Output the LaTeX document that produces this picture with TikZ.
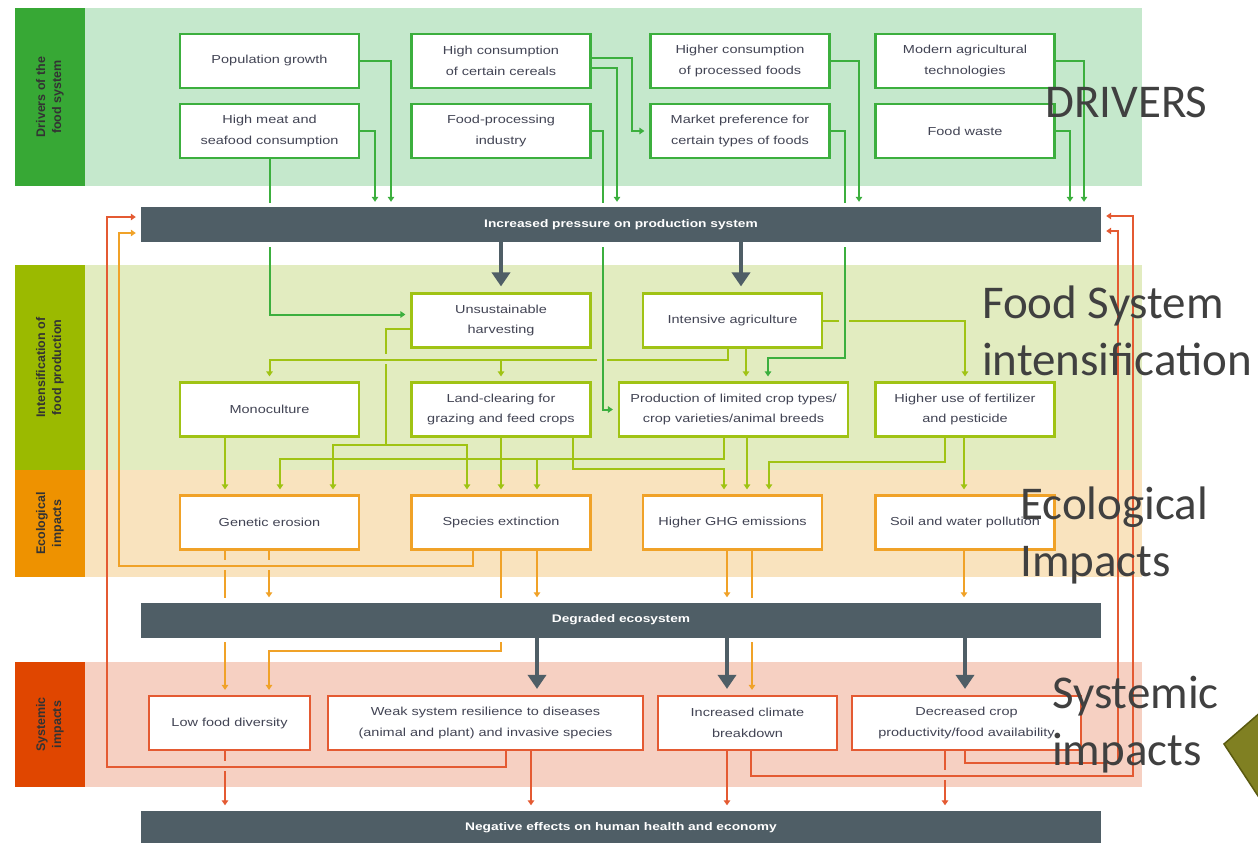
\documentclass[tikz,border=0pt]{standalone}
\usepackage{fontspec}
\setmainfont{Liberation Sans}
\newfontfamily\boxfont[FakeStretch=1.25]{Liberation Sans}
\newfontfamily\slidefont{Carlito}
\usetikzlibrary{arrows.meta}

\definecolor{drvbg}{RGB}{197,232,204}
\definecolor{drvdark}{RGB}{55,168,53}
\definecolor{drvline}{RGB}{60,175,62}
\definecolor{intbg}{RGB}{226,236,192}
\definecolor{intdark}{RGB}{155,186,0}
\definecolor{intline}{RGB}{160,195,20}
\definecolor{ecobg}{RGB}{249,227,190}
\definecolor{ecodark}{RGB}{238,146,0}
\definecolor{ecoline}{RGB}{240,162,40}
\definecolor{sysbg}{RGB}{246,208,194}
\definecolor{sysdark}{RGB}{224,70,0}
\definecolor{sysline}{RGB}{228,90,50}
\definecolor{barc}{RGB}{79,94,102}
\definecolor{boxtext}{RGB}{66,68,84}
\definecolor{slidetext}{RGB}{64,64,64}
\definecolor{olivefill}{RGB}{128,128,34}
\definecolor{olivedraw}{RGB}{90,90,16}

\pgfdeclarelayer{bg}
\pgfdeclarelayer{front}
\pgfsetlayers{bg,main,front}

% gap where one connector crosses another
\newcommand{\cgap}[2]{\fill[#2] (#1) +(-5,-5) rectangle +(5,5);}

\begin{document}
\begin{tikzpicture}[x=1pt,y=-1pt,
  basebox/.style={line width=2.2pt, fill=white, minimum width=179pt, minimum height=54pt,
    inner sep=0pt, align=center, text=boxtext, font=\boxfont\fontsize{11.6}{20.7}\selectfont},
  drvbox/.style={basebox, draw=drvline},
  intbox/.style={basebox, draw=intline},
  ecobox/.style={basebox, draw=ecoline},
  sysbox/.style={basebox, draw=sysline},
  pbar/.style={fill=barc, minimum width=960pt, minimum height=35pt, inner sep=0pt, text=white,
    font=\boxfont\bfseries\fontsize{11}{13}\selectfont, preaction={draw=white, line width=9pt}},
  bandlabel/.style={rotate=90, align=center, text=black!80, font=\bfseries\fontsize{12.5}{16}\selectfont},
  slide/.style={anchor=base west, inner sep=0pt, text=slidetext, font=\slidefont\fontsize{47}{57}\selectfont},
  lnk/.style={line width=2pt},
  tip/.style={-{Triangle[length=5pt,width=6.5pt]}, shorten >=5pt},
  gln/.style={lnk, draw=drvline}, garr/.style={gln, tip},
  oln/.style={lnk, draw=intline}, oarr/.style={oln, tip},
  yln/.style={lnk, draw=ecoline}, yarr/.style={yln, tip},
  rln/.style={lnk, draw=sysline}, rarr/.style={rln, tip},
  darr/.style={draw=barc, line width=4pt, -{Triangle[length=14pt,width=18pt]}, shorten >=6pt}]
\useasboundingbox (0,0) rectangle (1258,843);

% coloured bands with their side blocks
\begin{pgfonlayer}{bg}
\foreach \top/\bot/\light/\dark in {8/186/drvbg/drvdark, 265/470/intbg/intdark, 470/577/ecobg/ecodark, 662/787/sysbg/sysdark}{
  \fill[\light] (15,\top) rectangle (1142,\bot);
  \fill[\dark] (15,\top) rectangle (85,\bot);
}
\end{pgfonlayer}

\node[bandlabel] (lbldrv) at (50,97) {Drivers of the\\food system};
\node[bandlabel] (lblint) at (50,367.5) {Intensification of\\food production};
\node[bandlabel] (lbleco) at (50,523.5) {Ecological\\impacts};
\node[bandlabel] (lblsys) at (50,724.5) {Systemic\\impacts};

% dark bars
\begin{pgfonlayer}{front}
\node[pbar] (press) at (621,224.5) {Increased pressure on production system};
\node[pbar] (degr) at (621,620) {Degraded ecosystem};
\node[pbar] (neg) at (621,828) {Negative effects on human health and economy};
\end{pgfonlayer}

% drivers
\node[drvbox] (pop) at (269.5,61) {Population growth};
\node[drvbox] (meat) at (269.5,131) {High meat and\\seafood consumption};
\node[drvbox] (cereal) at (501,61) {High consumption\\of certain cereals};
\node[drvbox] (procind) at (501,131) {Food-processing\\industry};
\node[drvbox] (procfood) at (740,61) {Higher consumption\\of processed foods};
\node[drvbox] (market) at (740,131) {Market preference for\\certain types of foods};
\node[drvbox] (modern) at (965,61) {Modern agricultural\\technologies};
\node[drvbox] (waste) at (965,131) {Food waste};

% intensification
\node[intbox] (unsus) at (501,320.5) {Unsustainable\\harvesting};
\node[intbox] (intens) at (732.5,320.5) {Intensive agriculture};
\node[intbox] (mono) at (269.5,409.5) {Monoculture};
\node[intbox] (land) at (501,409.5) {Land-clearing for\\grazing and feed crops};
\node[intbox, minimum width=229pt] (prod) at (733.5,409.5) {Production of limited crop types/\\crop varieties/animal breeds};
\node[intbox] (fert) at (965,409.5) {Higher use of fertilizer\\and pesticide};

% ecological impacts
\node[ecobox] (gen) at (269.5,522.5) {Genetic erosion};
\node[ecobox] (spec) at (501,522.5) {Species extinction};
\node[ecobox] (ghg) at (732.5,522.5) {Higher GHG emissions};
\node[ecobox] (soil) at (965,522.5) {Soil and water pollution};

% systemic impacts
\node[sysbox, minimum width=161pt] (lowdiv) at (229.5,723) {Low food diversity};
\node[sysbox, minimum width=315pt] (weak) at (485.5,723) {Weak system resilience to diseases\\(animal and plant) and invasive species};
\node[sysbox] (climate) at (747.5,723) {Increased climate\\breakdown};
\node[sysbox, minimum width=229pt] (crop) at (966.5,723) {Decreased crop\\productivity/food availability};

% drivers into the pressure bar
\foreach \src/\x in {pop/391, meat/375, procfood/859, modern/1084, waste/1070}
  \draw[garr] (\src.east) -| (press.north -| \x,0);
\draw[garr] ([yshift=-7pt]cereal.east) -| (press.north -| 617,0);
\draw[garr] ([yshift=3pt]cereal.east) -- ++(40,0) |- (market.west);

% intensification links
\draw[oarr] (intens.east) -| (fert.north);
\draw[oarr] (intens.south -| 746,0) -- (prod.north -| 746,0);
\draw[oln] ([yshift=-8.5pt]unsus.west) -- ++(-24,0) -- ++(0,116) coordinate (ubus);
\draw[oarr] (ubus) -| (gen.north -| 333,0);
\draw[oarr] (ubus) -| (spec.north -| 467,0);
\cgap{387.5,359}{intbg}
\draw[oarr] ([xshift=-4.5pt]intens.south) -- ++(0,11) coordinate (ibus) -| (mono.north);
\draw[oarr] (ibus -| land.north) -- (land.north);
\draw[oarr] (prod.south -| 724,0) -- ++(0,21) coordinate (pbus) -| (gen.north -| 280,0);
\draw[oarr] (pbus -| 537,0) -- (spec.north -| 537,0);
\draw[oarr] (prod.south -| 747,0) -- (ghg.north -| 747,0);
\draw[oarr] (land.south) -- (spec.north);
\draw[oarr] (land.south -| 573,0) -- ++(0,31) -| (ghg.north -| 724,0);
\draw[oarr] (mono.south -| 225,0) -- (gen.north -| 225,0);
\draw[oarr] (fert.south -| 945,0) -- ++(0,24) -| (ghg.north -| 769,0);
\draw[oarr] (fert.south -| 964,0) -- (soil.north -| 964,0);

% drivers passing under the pressure bar
\cgap{601.5,359}{intbg}
\cgap{843.5,320.5}{intbg}
\draw[garr] (meat.south) |- ([yshift=6pt]unsus.west);
\draw[garr] (procind.east) -- ++(11,0) |- (prod.west);
\draw[garr] (market.east) -- ++(14,0) -- ++(0,227) -| ([xshift=34.5pt]prod.north);

% ecological impacts
\draw[yarr] (gen.south -| 225,0) -- (lowdiv.north -| 225,0);
\draw[yarr] (gen.south -| 269,0) -- (degr.north -| 269,0);
\draw[yarr] (spec.south) -- ++(0,100) -| (lowdiv.north -| 269,0);
\draw[yarr] (spec.south -| 537,0) -- (degr.north -| 537,0);
\draw[yarr] (ghg.south -| 727,0) -- (degr.north -| 727,0);
\draw[yarr] (ghg.south -| 752,0) -- (climate.north -| 752,0);
\draw[yarr] (soil.south -| 964,0) -- (degr.north -| 964,0);
\cgap{225,565}{ecobg}
\cgap{269,565}{ecobg}
\draw[yarr] (spec.south -| 473,0) -- ++(0,15) -- ++(-354,0) |- ([yshift=-8.5pt]press.west);

% systemic impacts
\draw[rarr] (lowdiv.south -| 225,0) -- (neg.north -| 225,0);
\draw[rarr] (weak.south -| 531,0) -- (neg.north -| 531,0);
\draw[rarr] (climate.south -| 727,0) -- (neg.north -| 727,0);
\draw[rarr] (crop.south -| 945,0) -- (neg.north -| 945,0);
\cgap{225,766}{sysbg}
\cgap{945,775}{sysbg}
% feedback loops
\draw[rarr] (weak.south -| 506,0) -- ++(0,16) -- ++(-399,0) |- ([yshift=7.5pt]press.west);
\draw[rarr] (climate.south -| 751,0) -- ++(0,25) -- ++(382,0) |- ([yshift=8.5pt]press.east);
\draw[rarr] (crop.south -| 965,0) -- ++(0,12) -- ++(153,0) |- ([yshift=-6.5pt]press.east);

% thick arrows out of the bars
\begin{pgfonlayer}{front}
\foreach \a/\b/\x in {press/unsus/501, press/intens/741, degr/weak/537, degr/climate/727, degr/crop/965}
  \draw[darr] (\a.south -| \x,0) -- (\b.north -| \x,0);
\end{pgfonlayer}

% slide captions
\node[slide] (drv) at (1045,117) {DRIVERS};
\node[slide] (fsys) at (982,318) {Food System};
\node[slide] (fint) at (982,375) {intensification};
\node[slide] (eco1) at (1020,519) {Ecological};
\node[slide] (eco2) at (1020,576) {Impacts};
\node[slide] (sys1) at (1052,708) {Systemic};
\node[slide] (sys2) at (1052,765) {impacts};

% pointer shape at the edge
\filldraw[fill=olivefill, draw=olivedraw, line width=1.5pt] (1224,744) -- (1262,711) -- (1262,802) -- cycle;

\end{tikzpicture}
\end{document}
